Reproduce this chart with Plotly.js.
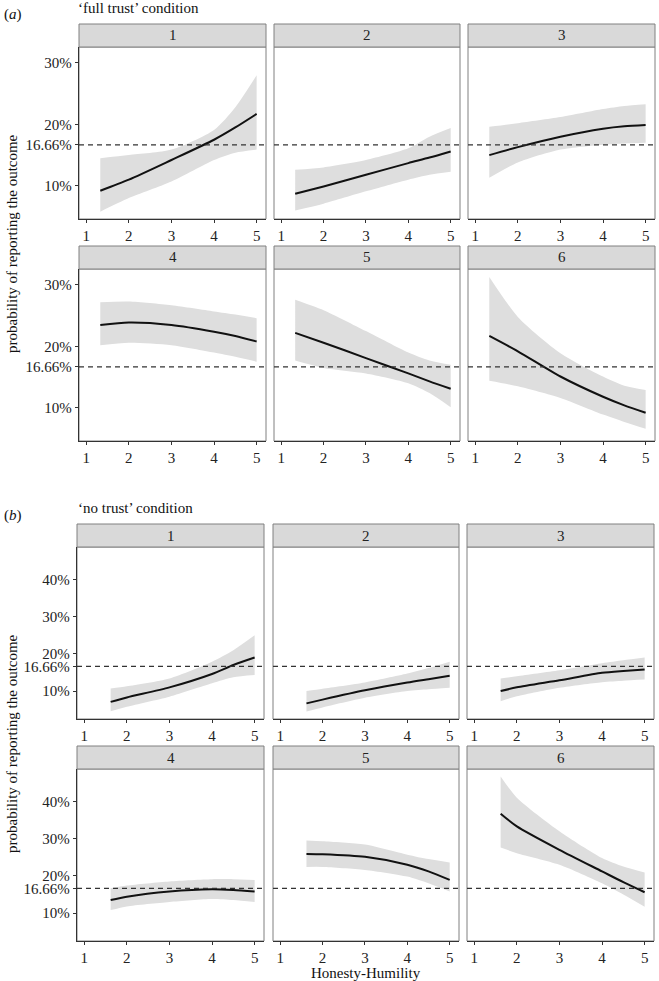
<!DOCTYPE html>
<html>
<head>
<meta charset="utf-8">
<script src="https://cdn.plot.ly/plotly-3.0.1.min.js"></script>
<style>
  body { margin: 0; background: #fff; }
  #chart { width: 659px; height: 981px; }
</style>
</head>
<body>
<div id="chart"></div>
<script>
// predicted probability (%) of reporting each outcome, by Honesty-Humility
const panelLabels = ['1', '2', '3', '4', '5', '6'];
const chance = 16.66;

// 'full trust' condition
const hhFull = [1.33, 2, 3, 4, 4.5, 5];
const fitFull = [
    [9.2, 11.0, 14.2, 17.5, 19.5, 21.7],
    [8.7, 9.9, 11.8, 13.7, 14.6, 15.6],
    [15.0, 16.3, 18.0, 19.3, 19.7, 19.9],
    [23.5, 23.9, 23.5, 22.4, 21.7, 20.8],
    [22.2, 20.6, 18.1, 15.6, 14.3, 13.1],
    [21.7, 19.2, 15.1, 11.8, 10.4, 9.2]
];
const lowFull = [
    [5.8, 8.0, 10.7, 14.2, 15.4, 15.9],
    [6.0, 7.1, 9.1, 11.0, 11.8, 12.3],
    [11.3, 13.8, 15.9, 16.7, 16.9, 17.0],
    [20.2, 20.6, 20.2, 19.0, 18.3, 17.5],
    [17.7, 16.5, 15.6, 14.0, 12.4, 10.1],
    [14.4, 13.5, 11.6, 8.9, 7.7, 6.6]
];
const highFull = [
    [14.5, 15.0, 15.9, 19.1, 22.8, 28.0],
    [12.6, 13.0, 14.2, 16.1, 18.0, 19.4],
    [19.6, 20.2, 21.2, 22.5, 23.0, 23.3],
    [27.2, 27.3, 26.7, 25.7, 25.2, 24.6],
    [27.6, 25.9, 22.5, 19.0, 17.7, 17.0],
    [31.3, 24.8, 18.9, 15.1, 13.6, 12.9]
];

// 'no trust' condition
const hhNo = [1.62, 2, 3, 4, 4.5, 5];
const fitNo = [
    [7.1, 8.3, 11.0, 14.6, 17.0, 19.0],
    [6.7, 7.7, 10.2, 12.3, 13.2, 14.1],
    [10.0, 11.0, 12.9, 14.9, 15.4, 15.8],
    [13.5, 14.4, 15.8, 16.4, 16.2, 15.8],
    [25.9, 25.8, 25.1, 23.0, 21.2, 18.9],
    [36.7, 33.3, 27.0, 21.2, 18.3, 15.6]
];
const lowNo = [
    [4.6, 5.8, 8.5, 12.1, 13.7, 14.3],
    [4.5, 5.6, 8.2, 10.0, 10.5, 10.9],
    [7.3, 8.6, 10.9, 12.4, 12.8, 13.1],
    [10.8, 11.8, 13.0, 13.8, 13.5, 13.0],
    [22.4, 22.4, 21.6, 19.8, 18.0, 15.8],
    [27.6, 26.1, 23.0, 18.0, 15.0, 11.7]
];
const highNo = [
    [10.7, 11.3, 13.4, 17.9, 21.0, 25.0],
    [10.0, 10.6, 12.3, 14.7, 16.2, 17.9],
    [13.4, 14.0, 15.6, 17.5, 18.3, 19.0],
    [16.7, 17.4, 18.5, 19.1, 19.1, 18.9],
    [29.5, 29.3, 28.4, 25.7, 24.5, 23.6],
    [46.7, 41.0, 32.0, 24.8, 22.5, 20.9]
];

const xTicks = [1, 2, 3, 4, 5];
const yTicksFull = [10, 16.66, 20, 30];
const yTextFull = ['10%', '16.66%', '20%', '30%'];
const yTicksNo = [10, 16.66, 20, 30, 40];
const yTextNo = ['10%', '16.66%', '20%', '30%', '40%'];

const W = 659, H = 981;
const px = v => v / W;
const py = v => 1 - v / H;
const font = { family: 'Liberation Serif', size: 15, color: '#222' };

// block geometry in pixels
const blocks = [
    { hh: hhFull, fit: fitFull, lo: lowFull, hi: highFull, yr: [4.6, 32.6],
      tv: yTicksFull, tt: yTextFull,
      cols: [[79, 266], [274, 460], [468, 655]],
      rows: [[47, 219], [269, 441]] },
    { hh: hhNo, fit: fitNo, lo: lowNo, hi: highNo, yr: [2.5, 48.7],
      tv: yTicksNo, tt: yTextNo,
      cols: [[77, 264], [273, 459], [467, 654]],
      rows: [[547, 719], [769, 941]] }
];

const data = [];
const layout = {
    width: W, height: H,
    margin: { l: 0, r: 0, t: 0, b: 0 },
    paper_bgcolor: '#fff', plot_bgcolor: '#fff',
    showlegend: false,
    font: font,
    shapes: [], annotations: []
};

const smooth = 0.7;
let n = 0;
blocks.forEach(b => {
    for (let p = 0; p < 6; p++) {
        n++;
        const r = Math.floor(p / 3), c = p % 3;
        const [x0, x1] = b.cols[c];
        const [y0, y1] = b.rows[r];
        const xa = 'x' + n, ya = 'y' + n;

        data.push({ x: b.hh, y: b.lo[p], xaxis: xa, yaxis: ya, mode: 'lines',
            line: { width: 0, shape: 'spline', smoothing: smooth }, hoverinfo: 'skip' });
        data.push({ x: b.hh, y: b.hi[p], xaxis: xa, yaxis: ya, mode: 'lines',
            fill: 'tonexty', fillcolor: '#dedede',
            line: { width: 0, shape: 'spline', smoothing: smooth }, hoverinfo: 'skip' });
        data.push({ x: b.hh, y: b.fit[p], xaxis: xa, yaxis: ya, mode: 'lines',
            line: { color: '#111', width: 2, shape: 'spline', smoothing: smooth } });

        layout['xaxis' + n] = {
            domain: [px(x0), px(x1)], anchor: ya, range: [0.83, 5.22],
            tickvals: xTicks, ticks: 'outside', ticklen: 3, tickcolor: '#333',
            showline: true, linecolor: '#333', linewidth: 1.3,
            showgrid: false, zeroline: false, tickfont: font
        };
        layout['yaxis' + n] = {
            domain: [py(y1), py(y0)], anchor: xa, range: b.yr,
            tickvals: b.tv, ticktext: b.tt,
            ticks: c === 0 ? 'outside' : '', ticklen: 3, tickcolor: '#333',
            showticklabels: c === 0,
            showline: c === 0, linecolor: '#333', linewidth: 1.3,
            showgrid: false, zeroline: false, tickfont: font
        };

        // panel border
        layout.shapes.push({ type: 'rect', xref: 'paper', yref: 'paper',
            x0: px(x0), x1: px(x1), y0: py(y1), y1: py(y0),
            line: { color: '#808080', width: 1 }, layer: 'below' });
        // reference line at chance level
        layout.shapes.push({ type: 'line', xref: xa + ' domain', yref: ya,
            x0: 0, x1: 1, y0: chance, y1: chance,
            line: { color: '#333', width: 1.3, dash: '5px,4px' } });
        // strip
        layout.shapes.push({ type: 'rect', xref: 'paper', yref: 'paper',
            x0: px(x0), x1: px(x1), y0: py(y0), y1: py(y0 - 23),
            fillcolor: '#d9d9d9', line: { color: '#808080', width: 1 } });
        layout.annotations.push({ xref: 'paper', yref: 'paper',
            x: px((x0 + x1) / 2), y: py(y0 - 11.5), text: panelLabels[p],
            showarrow: false, font: font, xanchor: 'center', yanchor: 'middle' });
    }
});

const titleFont = { family: 'Liberation Serif', size: 15, color: '#111' };
layout.annotations.push(
    { xref: 'paper', yref: 'paper', x: px(2), y: py(15), text: '(<i>a</i>)',
      showarrow: false, xanchor: 'left', yanchor: 'middle', font: titleFont },
    { xref: 'paper', yref: 'paper', x: px(76), y: py(8), text: '‘full trust’ condition',
      showarrow: false, xanchor: 'left', yanchor: 'middle', font: titleFont },
    { xref: 'paper', yref: 'paper', x: px(2), y: py(515), text: '(<i>b</i>)',
      showarrow: false, xanchor: 'left', yanchor: 'middle', font: titleFont },
    { xref: 'paper', yref: 'paper', x: px(76), y: py(508), text: '‘no trust’ condition',
      showarrow: false, xanchor: 'left', yanchor: 'middle', font: titleFont },
    { xref: 'paper', yref: 'paper', x: px(12), y: py(244), text: 'probability of reporting the outcome',
      showarrow: false, textangle: -90, xanchor: 'center', yanchor: 'middle', font: titleFont },
    { xref: 'paper', yref: 'paper', x: px(12), y: py(744), text: 'probability of reporting the outcome',
      showarrow: false, textangle: -90, xanchor: 'center', yanchor: 'middle', font: titleFont },
    { xref: 'paper', yref: 'paper', x: px(366), y: py(973), text: 'Honesty-Humility',
      showarrow: false, xanchor: 'center', yanchor: 'middle', font: titleFont }
);

Plotly.newPlot('chart', data, layout, { staticPlot: true });
</script>
</body>
</html>
